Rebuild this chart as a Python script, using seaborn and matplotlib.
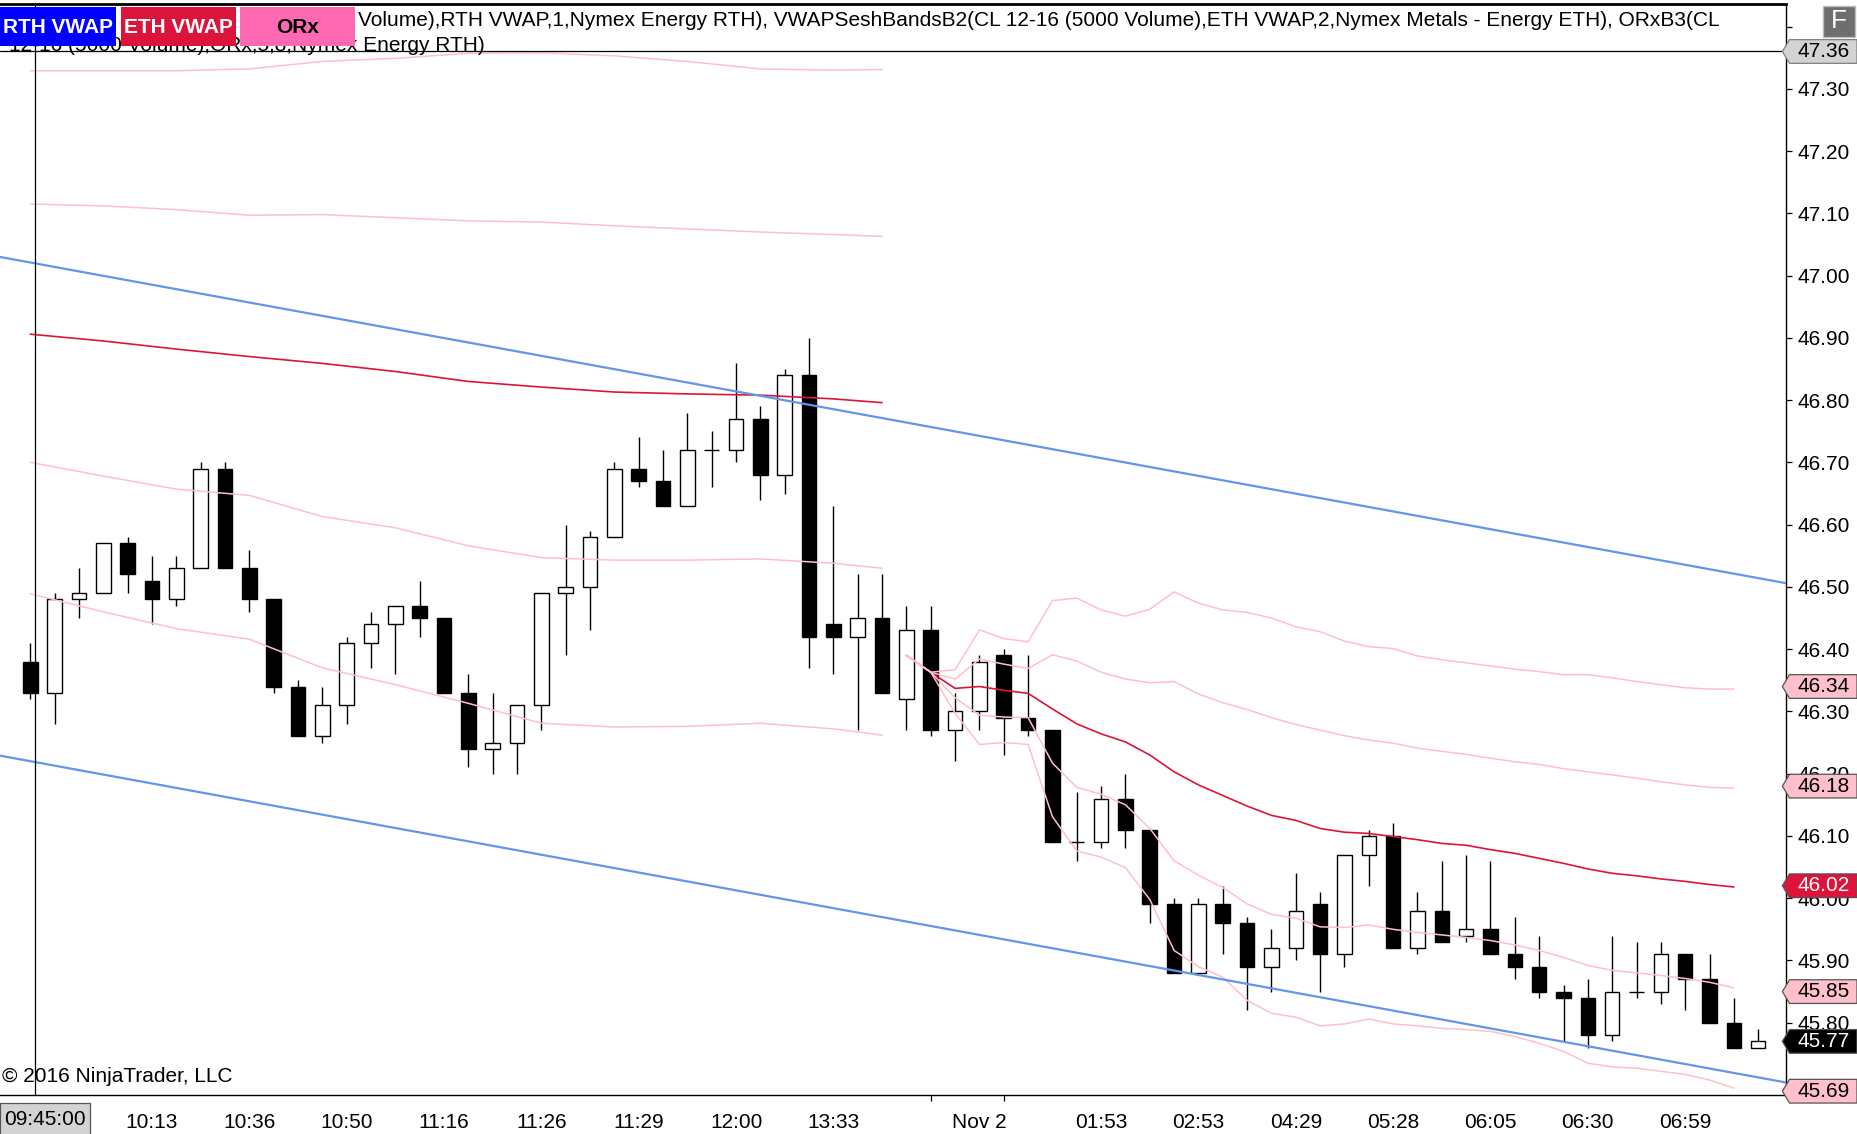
import matplotlib
matplotlib.use("Agg")
import numpy as np
import pandas as pd
import matplotlib.pyplot as plt
import seaborn as sns
from matplotlib.patches import Polygon, Rectangle

# --- CL 12-16, 5000 volume bars -------------------------------------------
opens = [46.38, 46.33, 46.48, 46.49, 46.57, 46.51, 46.48, 46.53, 46.69, 46.53,
         46.48, 46.34, 46.26, 46.31, 46.41, 46.44, 46.47, 46.45, 46.33, 46.24,
         46.25, 46.31, 46.49, 46.50, 46.58, 46.69, 46.67, 46.63, 46.72, 46.72,
         46.77, 46.68, 46.84, 46.44, 46.42, 46.45, 46.32, 46.43, 46.27, 46.30,
         46.39, 46.29, 46.27, 46.09, 46.09, 46.16, 46.11, 45.99, 45.88, 45.99,
         45.96, 45.89, 45.92, 45.99, 45.91, 46.07, 46.10, 45.92, 45.98, 45.94,
         45.95, 45.91, 45.89, 45.85, 45.84, 45.78, 45.85, 45.85, 45.91, 45.87,
         45.80, 45.76]
highs = [46.41, 46.49, 46.53, 46.57, 46.58, 46.55, 46.55, 46.70, 46.70, 46.56,
         46.48, 46.35, 46.34, 46.42, 46.46, 46.47, 46.51, 46.45, 46.36, 46.33,
         46.31, 46.49, 46.60, 46.59, 46.70, 46.74, 46.72, 46.78, 46.75, 46.86,
         46.79, 46.85, 46.90, 46.63, 46.52, 46.52, 46.47, 46.47, 46.33, 46.39,
         46.40, 46.39, 46.27, 46.17, 46.18, 46.20, 46.11, 46.00, 46.00, 46.02,
         45.97, 45.95, 46.04, 46.01, 46.07, 46.11, 46.12, 46.01, 46.06, 46.07,
         46.06, 45.97, 45.94, 45.86, 45.87, 45.94, 45.93, 45.93, 45.91, 45.91,
         45.84, 45.79]
lows = [46.32, 46.28, 46.45, 46.49, 46.49, 46.44, 46.47, 46.53, 46.53, 46.46,
        46.33, 46.26, 46.25, 46.28, 46.37, 46.36, 46.42, 46.33, 46.21, 46.20,
        46.20, 46.27, 46.39, 46.43, 46.58, 46.66, 46.63, 46.63, 46.66, 46.70,
        46.64, 46.65, 46.37, 46.36, 46.27, 46.33, 46.27, 46.26, 46.22, 46.27,
        46.23, 46.26, 46.09, 46.06, 46.08, 46.08, 45.96, 45.88, 45.88, 45.91,
        45.82, 45.85, 45.90, 45.85, 45.89, 46.02, 45.92, 45.91, 45.93, 45.93,
        45.91, 45.87, 45.84, 45.77, 45.76, 45.77, 45.84, 45.83, 45.82, 45.80,
        45.76, 45.76]
closes = [46.33, 46.48, 46.49, 46.57, 46.52, 46.48, 46.53, 46.69, 46.53, 46.48,
          46.34, 46.26, 46.31, 46.41, 46.44, 46.47, 46.45, 46.33, 46.24, 46.25,
          46.31, 46.49, 46.50, 46.58, 46.69, 46.67, 46.63, 46.72, 46.72, 46.77,
          46.68, 46.84, 46.42, 46.42, 46.45, 46.33, 46.43, 46.27, 46.30, 46.38,
          46.29, 46.27, 46.09, 46.09, 46.16, 46.11, 45.99, 45.88, 45.99, 45.96,
          45.89, 45.92, 45.98, 45.91, 46.07, 46.10, 45.92, 45.98, 45.93, 45.95,
          45.91, 45.89, 45.85, 45.84, 45.78, 45.85, 45.85, 45.91, 45.87, 45.80,
          45.76, 45.77]

# --- RTH VWAP session (bars 0..35), read every few bars ----------------------
rth_bars = [0, 3, 6, 9, 12, 15, 18, 21, 24, 27, 30, 33, 35]
rth_vwap = [46.906, 46.895, 46.882, 46.870, 46.859, 46.846, 46.830, 46.821,
            46.813, 46.810, 46.808, 46.802, 46.796]
rth_up1 = [47.115, 47.112, 47.106, 47.097, 47.098, 47.093, 47.088, 47.086,
           47.080, 47.075, 47.070, 47.066, 47.063]
rth_up2 = [47.329, 47.329, 47.329, 47.332, 47.344, 47.349, 47.357, 47.358,
           47.353, 47.344, 47.332, 47.330, 47.331]
rth_dn1 = [46.700, 46.678, 46.657, 46.647, 46.613, 46.595, 46.566, 46.547,
           46.543, 46.543, 46.545, 46.538, 46.530]
rth_dn2 = [46.489, 46.460, 46.433, 46.416, 46.370, 46.343, 46.313, 46.281,
           46.275, 46.276, 46.281, 46.272, 46.262]

# --- ETH VWAP session (bars 36..70) ----------------------------------------
eth_bars = list(range(36, 71))
eth_vwap = [46.390, 46.363, 46.337, 46.340, 46.334, 46.329, 46.304, 46.280,
            46.264, 46.251, 46.230, 46.203, 46.182, 46.165, 46.148, 46.133,
            46.125, 46.112, 46.106, 46.104, 46.099, 46.094, 46.088, 46.085,
            46.078, 46.072, 46.064, 46.056, 46.047, 46.040, 46.036, 46.031,
            46.027, 46.022, 46.018]
eth_up1 = [46.390, 46.363, 46.352, 46.384, 46.376, 46.369, 46.391, 46.381,
           46.363, 46.352, 46.346, 46.348, 46.328, 46.314, 46.303, 46.290,
           46.279, 46.270, 46.261, 46.254, 46.249, 46.241, 46.236, 46.231,
           46.225, 46.219, 46.215, 46.208, 46.203, 46.198, 46.193, 46.187,
           46.182, 46.178, 46.177]
eth_up2 = [46.390, 46.363, 46.367, 46.431, 46.417, 46.412, 46.478, 46.482,
           46.463, 46.453, 46.464, 46.492, 46.474, 46.463, 46.459, 46.450,
           46.436, 46.428, 46.413, 46.404, 46.401, 46.389, 46.383, 46.378,
           46.373, 46.368, 46.364, 46.359, 46.359, 46.354, 46.348, 46.343,
           46.338, 46.336, 46.336]
eth_dn1 = [46.390, 46.363, 46.322, 46.294, 46.291, 46.290, 46.217, 46.178,
           46.167, 46.150, 46.112, 46.060, 46.037, 46.017, 45.991, 45.974,
           45.968, 45.954, 45.953, 45.957, 45.950, 45.945, 45.941, 45.937,
           45.932, 45.925, 45.916, 45.905, 45.892, 45.884, 45.880, 45.876,
           45.871, 45.865, 45.856]
eth_dn2 = [46.390, 46.363, 46.297, 46.247, 46.250, 46.247, 46.131, 46.076,
           46.066, 46.049, 45.998, 45.916, 45.890, 45.873, 45.836, 45.815,
           45.809, 45.795, 45.798, 45.806, 45.798, 45.795, 45.791, 45.789,
           45.786, 45.778, 45.767, 45.754, 45.735, 45.729, 45.727, 45.722,
           45.717, 45.708, 45.695]

# --- drawn regression channel ----------------------------------------------
channel_x = [-1.25, 72.14]
channel_top = [47.030, 46.506]
channel_bottom = [46.229, 45.704]

# --- axis labels -------------------------------------------------------------
time_ticks = [5, 9, 13, 17, 21, 25, 29, 33, 39, 44, 48, 52, 56, 60, 64, 68]
time_labels = ["10:13", "10:36", "10:50", "11:16", "11:26", "11:29", "12:00",
               "13:33", "Nov 2", "01:53", "02:53", "04:29", "05:28", "06:05",
               "06:30", "06:59"]
time_marks = [5, 9, 13, 17, 21, 25, 29, 33, 37, 40, 44, 48, 52, 56, 60, 64, 68]
price_ticks = [45.80, 45.90, 46.00, 46.10, 46.20, 46.30, 46.40, 46.50, 46.60,
               46.70, 46.80, 46.90, 47.00, 47.10, 47.20, 47.30, 47.40]

crosshair_bar = 0.2
crosshair_price = 47.36
crosshair_time = "09:45:00"

# price markers on the right axis: value, fill, text colour
markers = [(46.34, "#FFC0CB", "black"), (46.18, "#FFC0CB", "black"),
           (46.02, "#DC143C", "white"), (45.85, "#FFC0CB", "black"),
           (45.77, "black", "white"), (45.69, "#FFC0CB", "black")]

header_1 = ("Volume),RTH VWAP,1,Nymex Energy RTH), VWAPSeshBandsB2(CL 12-16 "
            "(5000 Volume),ETH VWAP,2,Nymex Metals - Energy ETH), ORxB3(CL")
header_2 = "12-16 (5000 Volume),ORx,5,8,Nymex Energy RTH)"

BLUE = "#6495ED"
RED = "#DC143C"
PINK = "#FFC0CB"
FS = 15

sns.set_theme(style="white")
plt.rcParams["font.family"] = ["Liberation Sans", "DejaVu Sans"]

W, H = 1857, 1134
S = W / 1568.0  # reference pixel scale
fig = plt.figure(figsize=(W / 100, H / 100), dpi=100)
fig.patch.set_facecolor("white")
ax = fig.add_axes([0, 1 - 925 / 958, 1508 / 1568, (925 - 3) / 958])
ax.set_facecolor("white")

bars = np.arange(len(opens))
o = np.array(opens)
c = np.array(closes)
up = c >= o

# candles
ax.vlines(bars, lows, highs, color="black", lw=1.0, zorder=2)
ax.bar(bars, c - o, bottom=o, width=0.6, color=np.where(up, "white", "black"),
       edgecolor="black", linewidth=1.0, zorder=3)

# vwap lines, then the bands on top of them
sns.lineplot(x=rth_bars, y=rth_vwap, color=RED, lw=1.2, ax=ax, zorder=4,
             estimator=None, legend=False)
sns.lineplot(x=eth_bars, y=eth_vwap, color=RED, lw=1.2, ax=ax, zorder=4,
             estimator=None, legend=False)
for xs, lines in [(rth_bars, [rth_up2, rth_up1, rth_dn1, rth_dn2]),
                  (eth_bars, [eth_up2, eth_up1, eth_dn1, eth_dn2])]:
    for ys in lines:
        sns.lineplot(x=xs, y=ys, color=PINK, lw=1.1, ax=ax, zorder=4.5,
                     estimator=None, legend=False)

# channel
sns.lineplot(x=channel_x, y=channel_top, color=BLUE, lw=1.6, ax=ax, zorder=5,
             legend=False)
sns.lineplot(x=channel_x, y=channel_bottom, color=BLUE, lw=1.6, ax=ax,
             zorder=5, legend=False)

# crosshair
ax.axvline(crosshair_bar, color="black", lw=0.9, zorder=6)
ax.axhline(crosshair_price, color="black", lw=0.9, zorder=6)

ax.set_xlim(-1.246, 72.14)
ax.set_ylim(45.684, 47.437)
ax.set_xlabel("")
ax.set_ylabel("")

# axes look
ax.spines["left"].set_visible(False)
for side in ["right", "bottom", "top"]:
    ax.spines[side].set_color("black")
    ax.spines[side].set_linewidth(1.0)
ax.spines["top"].set_linewidth(2.0)

ax.yaxis.tick_right()
ax.set_yticks(price_ticks)
ax.set_yticklabels(["%.2f" % p if p < 47.35 else "" for p in price_ticks])
ax.tick_params(axis="y", which="major", direction="out", length=4.5, width=0.9,
               pad=4, labelsize=FS, colors="black", right=True, left=False)
ax.set_xticks(time_ticks)
ax.set_xticklabels(time_labels)
ax.set_xticks(time_marks, minor=True)
ax.tick_params(axis="x", which="major", length=0, pad=13, labelsize=FS,
               colors="black")
ax.tick_params(axis="x", which="minor", direction="out", length=4, width=0.9,
               bottom=True, colors="black")
ax.grid(False)


def px(x, y):
    # reference pixel (top-left origin) to figure fraction
    return x * S / W, 1 - y * S / H


def flag(value, face, tcolor, edge="#555555"):
    y_pix = ax.transData.transform((0, value))[1]
    yf = y_pix / H
    hh = 10 * S / H
    xt, xb, xr = 1505 * S / W, 1511 * S / W, 1.0
    pts = [(xt, yf), (xb, yf + hh), (xr, yf + hh), (xr, yf - hh), (xb, yf - hh)]
    fig.add_artist(Polygon(pts, closed=True, transform=fig.transFigure,
                           facecolor=face, edgecolor=edge, lw=0.9, zorder=5))
    fig.text(1539.5 * S / W, yf, "%.2f" % value, ha="center", va="center",
             color=tcolor, fontsize=FS, zorder=6)


flag(crosshair_price, "#D3D3D3", "black", edge="#808080")
for val, face, tcol in markers:
    flag(val, face, tcol)

# crosshair time box
x0, y0 = px(0, 958)
x1, y1 = px(76, 931)
fig.add_artist(Rectangle((x0, y0), x1 - x0, y1 - y0, transform=fig.transFigure,
                         facecolor="#D3D3D3", edgecolor="#555555", lw=0.9,
                         zorder=5))
tx, ty = px(38, 945)
fig.text(tx, ty, crosshair_time, ha="center", va="center", fontsize=FS,
         color="black", zorder=6)

# header text and indicator boxes
hx, hy = px(302, 17)
fig.text(hx, hy, header_1, ha="left", va="center", fontsize=FS, color="black",
         zorder=3)
hx, hy = px(409, 38)
fig.text(hx, hy, header_2, ha="right", va="center", fontsize=FS,
         color="black", zorder=3)
for left, right, face, tcolor, label in [(0, 98, "#0000FF", "white", "RTH VWAP"),
                                         (102, 199, RED, "white", "ETH VWAP"),
                                         (203, 300, "#FF69B4", "black", "ORx")]:
    bx0, by0 = px(left, 39)
    bx1, by1 = px(right, 6)
    fig.add_artist(Rectangle((bx0, by0), bx1 - bx0, by1 - by0,
                             transform=fig.transFigure, facecolor=face,
                             edgecolor="none", zorder=7))
    cx, cy = px((left + right) / 2, 23)
    fig.text(cx, cy, label, ha="center", va="center", fontsize=FS,
             fontweight="bold", color=tcolor, zorder=8)

# "F" button
bx0, by0 = px(1539, 31)
bx1, by1 = px(1566, 5)
fig.add_artist(Rectangle((bx0, by0), bx1 - bx0, by1 - by0,
                         transform=fig.transFigure, facecolor="#6E6E6E",
                         edgecolor="#BBBBBB", lw=1.0, zorder=7))
cx, cy = px(1552.5, 18)
fig.text(cx, cy, "F", ha="center", va="center", fontsize=19, color="white",
         zorder=8)

# copyright
cx, cy = px(2, 909)
fig.text(cx, cy, "\u00a9 2016 NinjaTrader, LLC", ha="left", va="center",
         fontsize=FS, color="black", zorder=6)

fig.savefig("out.png", dpi=100, facecolor="white")
